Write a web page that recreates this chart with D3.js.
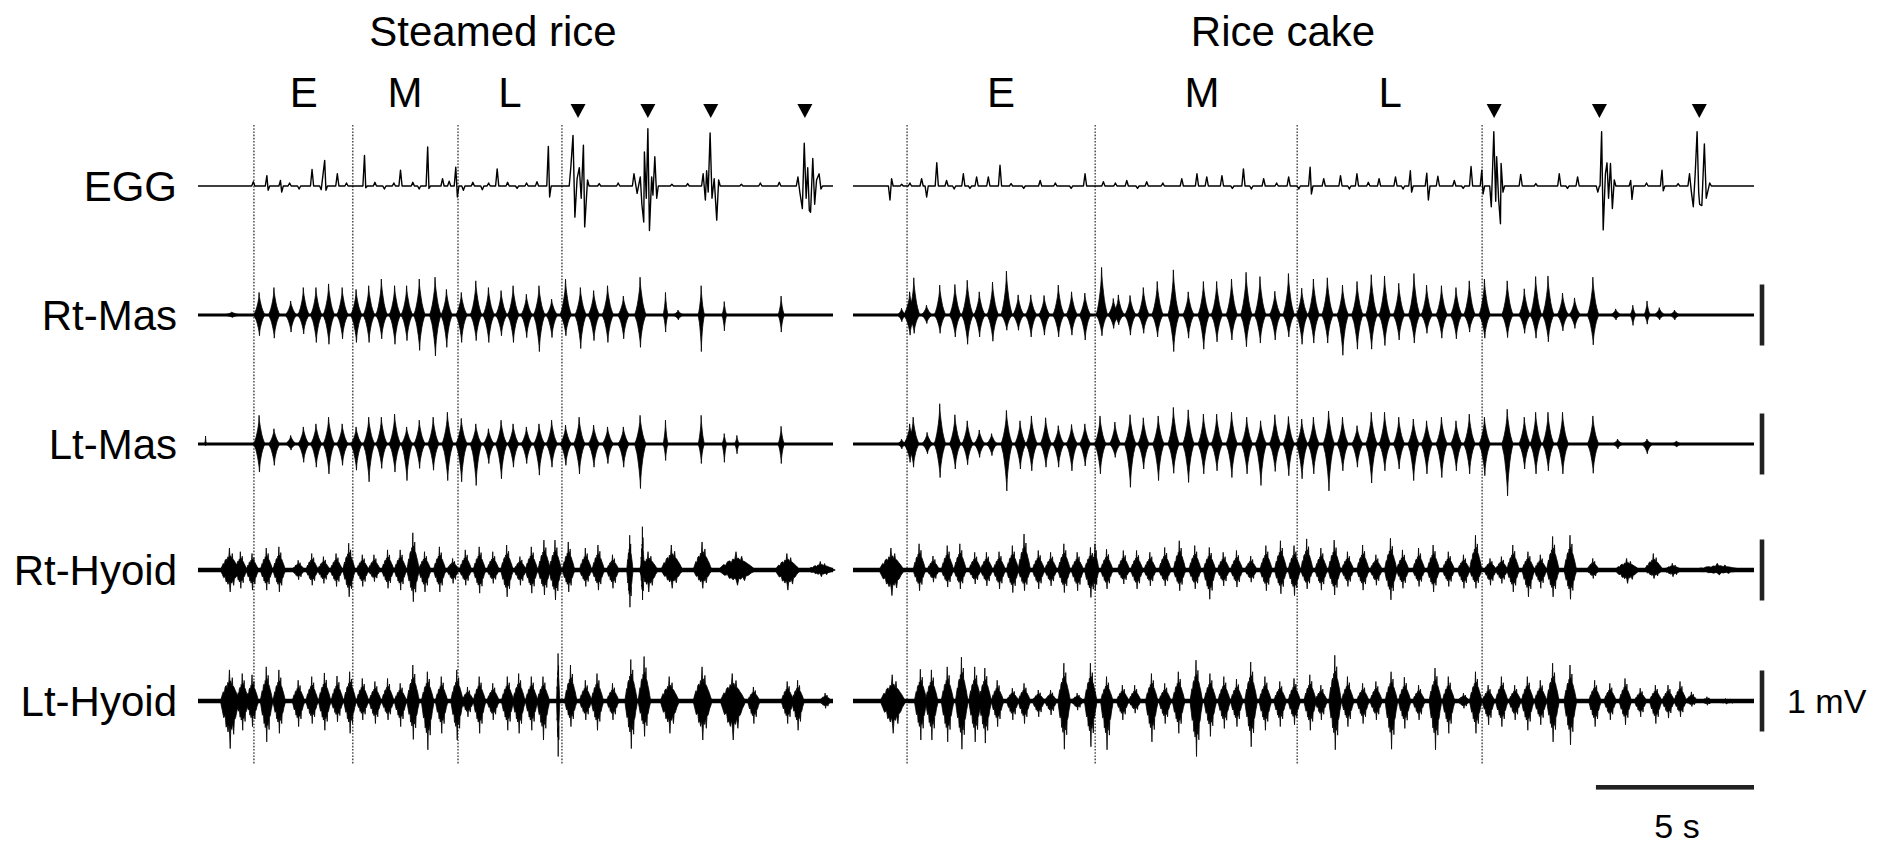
<!DOCTYPE html>
<html>
<head>
<meta charset="utf-8">
<script src="https://cdn.jsdelivr.net/npm/d3@7"></script>
<style>
  body { margin: 0; background: #fff; }
  text { font-family: "Liberation Sans", Arial, sans-serif; fill: #000; }
</style>
</head>
<body>
<svg id="chart" width="1896" height="846"></svg>
<script>
// ---- data (time in s, amplitude in mV) ----
var panelTitles = ["Steamed rice", "Rice cake"];
var panelDuration = [20.1, 28.5];
var rowLabels = ["EGG", "Rt-Mas", "Lt-Mas", "Rt-Hyoid", "Lt-Hyoid"];
var phaseLabels = ["E", "M", "L"];
var phaseLabelTimes = [[3.35, 6.55, 9.87], [4.68, 11.04, 16.99]];
var phaseLineTimes = [[1.77, 4.9, 8.23, 11.52], [1.71, 7.66, 14.05, 19.9]];
var swallowTimes = [[12.03, 14.24, 16.23, 19.21], [20.28, 23.61, 26.77]];
var scaleBarMv = 1;
var scaleBarSec = 5;

// EGG peaks [t, value]
var eggLeft = [[1.75,0.07],[2.18,0.17],[2.22,-0.07],[2.61,0.09],[2.65,-0.10],[2.9,0.05],[3.2,-0.05],[3.61,0.27],[3.9,-0.06],[4.01,0.42],[4.05,-0.07],
  [4.41,0.20],[4.7,0.05],[5.27,0.50],[5.31,-0.03],[5.6,0.06],[5.9,-0.05],[6.2,0.05],[6.41,0.26],[6.8,0.06],[7.0,-0.05],[7.27,0.64],[7.31,-0.04],
  [7.74,0.12],[7.95,0.08],[8.16,0.31],[8.21,-0.18],[8.4,-0.07],[8.7,0.06],[9.0,-0.06],[9.2,0.05],[9.47,0.28],[9.8,0.06],[10.1,-0.04],[10.4,0.05],
  [10.73,0.07],[11.09,0.65],[11.13,-0.18],
  [11.80,0.30],[11.87,0.83],[11.93,-0.51],[12.00,0.12],[12.07,0.30],[12.13,-0.2],[12.20,0.67],[12.24,-0.67],[12.33,0.10],
  [12.7,0.04],[13.3,0.05],
  [13.80,0.20],[13.90,-0.12],[14.00,0.15],[14.05,-0.30],[14.11,-0.59],[14.13,0.56],[14.19,-0.2],[14.24,0.94],[14.29,-0.73],[14.36,0.15],[14.40,-0.15],[14.46,0.48],[14.52,-0.2],
  [15.0,0.03],[15.5,0.04],
  [15.99,0.20],[16.06,-0.23],[16.10,0.25],[16.15,-0.1],[16.21,0.87],[16.27,-0.2],[16.34,0.12],[16.42,-0.56],[16.48,0.10],
  [17.2,0.03],[17.8,0.05],[18.4,0.06],
  [18.99,0.15],[19.05,-0.1],[19.13,-0.37],[19.19,0.70],[19.25,-0.2],[19.30,0.3],[19.35,-0.4],[19.39,-0.43],[19.46,0.45],[19.52,-0.3],[19.58,0.1],[19.66,0.20],[19.72,-0.05]];

var eggRight = [[1.17,-0.23],[1.22,0.12],[1.54,0.03],[1.8,0.05],[2.17,0.12],[2.33,-0.18],[2.65,0.38],[2.96,0.09],[3.2,-0.05],[3.49,0.20],[3.7,-0.04],
  [3.91,0.15],[4.28,0.15],[4.65,0.34],[5.0,0.04],[5.4,-0.04],[5.92,0.09],[6.4,0.05],[6.9,-0.04],[7.34,0.20],[7.92,0.07],[8.3,0.05],[8.66,0.09],
  [9.0,-0.04],[9.29,0.07],[9.8,0.05],[10.40,0.12],[10.88,0.20],[11.19,0.15],[11.67,0.17],[12.0,-0.04],[12.35,0.28],[12.6,-0.05],[12.99,0.12],
  [13.4,0.05],[13.78,0.15],[14.1,-0.05],[14.46,0.31],[14.50,-0.13],[14.89,0.12],[15.42,0.17],[15.7,-0.05],[15.94,0.20],[16.3,0.06],[16.64,0.12],
  [17.16,0.15],[17.4,-0.05],[17.63,0.25],[17.67,-0.10],[18.15,0.21],[18.20,-0.23],[18.50,0.16],[19.02,0.09],[19.3,-0.04],[19.55,0.32],[19.89,0.26],[19.93,-0.13],
  [20.19,-0.34],[20.27,0.89],[20.33,-0.25],[20.36,0.48],[20.42,-0.2],[20.48,-0.62],[20.50,0.37],[20.56,-0.10],
  [21.12,0.19],[21.6,0.04],[22.34,0.20],[22.6,-0.04],[22.92,0.15],
  [23.56,-0.10],[23.68,0.89],[23.73,-0.72],[23.80,0.2],[23.85,0.38],[23.90,-0.2],[23.96,0.37],[24.02,-0.37],[24.08,0.10],
  [24.60,0.09],[24.64,-0.22],[25.1,0.05],[25.59,0.26],[25.63,-0.08],[26.1,0.04],
  [26.46,0.20],[26.52,-0.1],[26.58,-0.34],[26.64,0.2],[26.70,0.89],[26.75,-0.1],[26.78,-0.30],[26.85,-0.32],[26.93,0.69],[26.99,-0.20],[27.10,0.05]];

// EMG bursts [t, up, down, optional half-width]
var rtMasLeft = [[1.08,0.05,0.04,0.3],[1.94,0.37,0.34],[2.41,0.45,0.38],[2.94,0.23,0.28],[3.34,0.45,0.31],[3.74,0.45,0.45],[4.14,0.51,0.48],
  [4.57,0.45,0.39],[5.01,0.42,0.45],[5.41,0.48,0.45],[5.81,0.59,0.39],[6.23,0.48,0.48],[6.61,0.48,0.42],[7.01,0.59,0.58],[7.51,0.62,0.67],
  [7.87,0.42,0.53],[8.34,0.37,0.45],[8.80,0.56,0.42],[9.20,0.45,0.45],[9.60,0.40,0.34],[9.98,0.48,0.45],[10.40,0.34,0.37],[10.80,0.48,0.60],
  [11.20,0.26,0.37],[11.64,0.59,0.34],[12.11,0.45,0.55],[12.53,0.40,0.42],[12.97,0.48,0.45],[13.47,0.31,0.39],[14.00,0.62,0.53],
  [14.80,0.37,0.28,0.08],[15.20,0.08,0.08],[15.93,0.48,0.60,0.1],[16.66,0.22,0.26,0.08],[18.46,0.31,0.28,0.1]];
var ltMasLeft = [[0.24,0.13,0.03,0.03],[1.94,0.47,0.46],[2.41,0.25,0.35],[2.94,0.14,0.10],[3.34,0.28,0.30],[3.74,0.33,0.38],[4.14,0.44,0.49],
  [4.57,0.33,0.35],[5.01,0.28,0.43],[5.41,0.44,0.62],[5.81,0.44,0.40],[6.23,0.49,0.46],[6.61,0.28,0.60],[7.01,0.39,0.40],[7.45,0.44,0.43],
  [7.90,0.52,0.60],[8.34,0.42,0.62],[8.80,0.33,0.68],[9.20,0.25,0.32],[9.60,0.39,0.57],[9.98,0.33,0.38],[10.40,0.28,0.32],[10.80,0.33,0.51],
  [11.20,0.39,0.38],[11.64,0.31,0.35],[12.07,0.44,0.49],[12.53,0.31,0.38],[12.97,0.28,0.32],[13.47,0.28,0.38],[14.00,0.47,0.73],
  [14.80,0.39,0.27,0.08],[15.93,0.47,0.32,0.1],[16.66,0.17,0.30,0.08],[17.06,0.14,0.16,0.08],[18.46,0.29,0.32,0.1]];
var rtHyoidLeft = [[1.01,0.36,0.36,0.3],[1.35,0.30,0.30],[1.72,0.27,0.33],[2.17,0.36,0.33],[2.57,0.38,0.36],[3.18,0.16,0.16],[3.61,0.27,0.25],
  [3.98,0.22,0.22],[4.38,0.27,0.27],[4.78,0.44,0.44],[5.21,0.25,0.27],[5.58,0.25,0.19],[6.01,0.33,0.30],[6.41,0.33,0.33],[6.81,0.61,0.52],
  [7.18,0.30,0.36],[7.65,0.38,0.36],[8.07,0.19,0.22],[8.47,0.33,0.25],[8.91,0.38,0.38],[9.34,0.30,0.22],[9.78,0.41,0.44],[10.20,0.22,0.25],
  [10.56,0.38,0.38],[10.96,0.49,0.41],[11.31,0.49,0.49],[11.73,0.46,0.36],[12.27,0.36,0.27],[12.67,0.41,0.33],[13.13,0.25,0.30],
  [13.67,0.57,0.61,0.1],[14.07,0.71,0.49,0.06],[14.26,0.30,0.36,0.3],[15.00,0.41,0.30,0.35],[15.97,0.46,0.30,0.3],[17.06,0.30,0.25,0.6],
  [18.66,0.27,0.33,0.4],[19.72,0.14,0.11,0.45]];
var ltHyoidLeft = [[1.01,0.51,0.78,0.3],[1.41,0.45,0.48],[1.72,0.43,0.42],[2.17,0.56,0.67],[2.57,0.51,0.53],[3.18,0.34,0.42],[3.61,0.40,0.37],
  [4.01,0.46,0.48],[4.41,0.41,0.34],[4.81,0.48,0.53],[5.21,0.37,0.31],[5.61,0.32,0.37],[6.01,0.37,0.31],[6.41,0.29,0.42],[6.81,0.59,0.63],
  [7.27,0.48,0.80],[7.71,0.40,0.53],[8.20,0.51,0.64],[8.54,0.23,0.26],[8.91,0.40,0.53],[9.34,0.29,0.31],[9.80,0.40,0.48],[10.16,0.45,0.53],
  [10.56,0.40,0.48],[10.93,0.40,0.64],[11.40,0.78,0.91,0.05],[11.80,0.59,0.42],[12.27,0.34,0.31],[12.64,0.45,0.48],[13.13,0.29,0.31],
  [13.71,0.68,0.78],[14.13,0.73,0.58],[14.93,0.40,0.53,0.3],[15.97,0.56,0.64,0.3],[16.93,0.45,0.64,0.4],[17.59,0.23,0.37],[18.66,0.32,0.37],
  [18.99,0.34,0.48],[19.86,0.13,0.12,0.2]];

var rtMasRight = [[1.54,0.11,0.11,0.15],[1.80,0.38,0.33,0.2],[1.93,0.61,0.30],[2.33,0.16,0.14],[2.75,0.49,0.30],[3.23,0.50,0.36],[3.62,0.57,0.48],
  [4.00,0.38,0.36],[4.42,0.54,0.43],[4.86,0.72,0.25],[5.23,0.33,0.25],[5.63,0.33,0.36],[6.05,0.32,0.33],[6.50,0.49,0.36],[6.92,0.38,0.33],
  [7.34,0.36,0.41],[7.87,0.78,0.34],[8.24,0.27,0.22],[8.40,0.33,0.16],[8.77,0.32,0.33],[9.19,0.45,0.30],[9.63,0.55,0.36],[10.14,0.74,0.60],
  [10.61,0.38,0.38],[11.09,0.55,0.56],[11.51,0.55,0.44],[11.98,0.59,0.41],[12.44,0.70,0.52],[12.88,0.63,0.46],[13.35,0.39,0.41],[13.78,0.68,0.36],
  [14.20,0.44,0.48],[14.57,0.59,0.46],[15.01,0.61,0.46],[15.49,0.49,0.66],[15.95,0.55,0.56],[16.40,0.66,0.56],[16.82,0.64,0.50],[17.27,0.52,0.41],
  [17.75,0.68,0.46],[18.15,0.49,0.30],[18.62,0.48,0.38],[19.08,0.45,0.39],[19.50,0.56,0.28],[19.98,0.59,0.38],[20.70,0.56,0.37],[21.24,0.43,0.30],
  [21.60,0.63,0.38],[21.99,0.64,0.44],[22.45,0.36,0.26],[22.83,0.28,0.22],[23.41,0.62,0.49],[24.13,0.10,0.08],[24.67,0.16,0.17,0.1],
  [25.12,0.23,0.15,0.1],[25.51,0.12,0.08],[25.99,0.08,0.08]];
var ltMasRight = [[1.54,0.08,0.08,0.15],[1.80,0.33,0.30,0.2],[1.91,0.44,0.38],[2.35,0.19,0.16],[2.75,0.66,0.55],[3.23,0.48,0.41],[3.62,0.38,0.34],
  [4.00,0.23,0.22],[4.39,0.17,0.19],[4.86,0.55,0.77],[5.29,0.38,0.41],[5.65,0.46,0.44],[6.10,0.43,0.38],[6.50,0.30,0.38],[6.92,0.32,0.44],
  [7.34,0.33,0.36],[7.82,0.46,0.49],[8.29,0.36,0.22],[8.77,0.48,0.71],[9.19,0.43,0.41],[9.66,0.46,0.60],[10.14,0.60,0.48],[10.61,0.56,0.63],
  [11.09,0.49,0.49],[11.51,0.49,0.44],[11.98,0.52,0.55],[12.46,0.44,0.49],[12.90,0.38,0.68],[13.35,0.48,0.45],[13.78,0.45,0.52],[14.20,0.41,0.57],
  [14.57,0.44,0.49],[15.05,0.54,0.77],[15.49,0.44,0.44],[15.95,0.30,0.38],[16.40,0.52,0.64],[16.82,0.52,0.44],[17.27,0.44,0.41],[17.73,0.41,0.60],
  [18.15,0.38,0.49],[18.62,0.44,0.55],[19.08,0.38,0.44],[19.50,0.49,0.49],[19.98,0.44,0.52],[20.70,0.57,0.85],[21.24,0.44,0.41],[21.60,0.52,0.49],
  [21.99,0.52,0.44],[22.45,0.52,0.49],[23.41,0.46,0.48],[24.19,0.08,0.08],[25.12,0.08,0.16],[26.05,0.05,0.05]];
var rtHyoidRight = [[1.22,0.36,0.42,0.4],[2.10,0.43,0.34],[2.54,0.23,0.20],[2.99,0.40,0.28],[3.39,0.43,0.31],[3.86,0.29,0.23],[4.23,0.29,0.26],
  [4.63,0.30,0.31],[5.05,0.40,0.37],[5.42,0.59,0.34],[5.87,0.32,0.31],[6.26,0.29,0.26],[6.68,0.43,0.37],[7.10,0.29,0.34],[7.52,0.37,0.45],
  [7.66,0.43,0.34,0.12],[8.03,0.34,0.31],[8.56,0.32,0.23],[8.98,0.32,0.31],[9.40,0.29,0.26],[9.87,0.37,0.26],[10.33,0.48,0.34],[10.82,0.40,0.31],
  [11.28,0.37,0.48],[11.72,0.29,0.26],[12.14,0.32,0.28],[12.59,0.23,0.20],[13.07,0.40,0.34],[13.53,0.48,0.39],[13.96,0.40,0.42],[14.36,0.51,0.31],
  [14.81,0.36,0.33],[15.23,0.49,0.41],[15.65,0.30,0.27],[16.13,0.41,0.33],[16.55,0.25,0.25],[17.01,0.52,0.49],[17.39,0.33,0.30],[17.90,0.36,0.27],
  [18.36,0.41,0.36],[18.84,0.30,0.27],[19.32,0.25,0.30],[19.70,0.57,0.30],[20.16,0.19,0.25],[20.52,0.22,0.22],[20.88,0.41,0.36],[21.36,0.30,0.44],
  [21.75,0.25,0.30],[22.14,0.55,0.44],[22.69,0.57,0.48],[23.41,0.19,0.14],[24.49,0.19,0.22,0.4],[25.33,0.27,0.14,0.3],[25.93,0.11,0.11,0.3],
  [27.38,0.11,0.08,0.8]];
var ltHyoidRight = [[1.26,0.43,0.53,0.4],[2.14,0.52,0.64],[2.49,0.51,0.64],[2.99,0.56,0.67],[3.44,0.72,0.79],[3.86,0.56,0.67],[4.18,0.54,0.69],
  [4.57,0.34,0.42],[5.05,0.21,0.31],[5.42,0.29,0.37],[5.87,0.18,0.26],[6.26,0.18,0.23],[6.68,0.62,0.79],[7.10,0.13,0.15],[7.52,0.62,0.75],
  [8.03,0.40,0.80],[8.53,0.26,0.31],[8.92,0.26,0.20],[9.45,0.45,0.67],[9.87,0.29,0.37],[10.30,0.48,0.53],[10.86,0.67,0.91],[11.30,0.45,0.58],
  [11.74,0.40,0.45],[12.14,0.36,0.42],[12.59,0.64,0.75],[13.04,0.40,0.48],[13.51,0.32,0.42],[13.96,0.37,0.39],[14.46,0.43,0.48],[14.81,0.26,0.31],
  [15.25,0.75,0.80],[15.65,0.40,0.42],[16.13,0.29,0.37],[16.55,0.32,0.31],[17.03,0.48,0.79],[17.45,0.39,0.45],[17.90,0.26,0.31],[18.42,0.54,0.80],
  [18.84,0.40,0.53],[19.32,0.13,0.12],[19.70,0.48,0.53],[20.10,0.26,0.39],[20.52,0.40,0.42],[20.94,0.26,0.31],[21.34,0.40,0.48],[21.75,0.34,0.39],
  [22.14,0.62,0.67],[22.69,0.59,0.72],[23.47,0.34,0.42],[23.95,0.29,0.31],[24.43,0.37,0.39],[24.91,0.21,0.26],[25.39,0.26,0.37],[25.79,0.26,0.28],
  [26.17,0.32,0.26],[26.53,0.15,0.09],[27.02,0.07,0.07],[27.62,0.04,0.05,0.5]];

var eggData = [eggLeft, eggRight];
var emgData = [[rtMasLeft, ltMasLeft, rtHyoidLeft, ltHyoidLeft],
               [rtMasRight, ltMasRight, rtHyoidRight, ltHyoidRight]];

// ---- layout ----
var svg = d3.select("#chart");
var panelRange = [[198, 833], [853, 1754]];
var rowY = [186, 315, 444, 570, 701];
var mvPx = 61;
var titleX = [493, 1283];

var xScales = panelDuration.map(function (d, i) {
  return d3.scaleLinear().domain([0, d]).range(panelRange[i]);
});
var yScales = rowY.map(function (y) {
  return d3.scaleLinear().domain([-1, 1]).range([y + mvPx, y - mvPx]);
});

// burst outline templates: [u across burst (-1..1), relative height]
var masTop = [[-1,0],[-0.75,0.12],[-0.55,0.25],[-0.4,0.38],[-0.28,0.5],[-0.18,0.62],[-0.1,0.75],[-0.04,1],[0.02,0.82],[0.1,0.7],
  [0.2,0.58],[0.32,0.45],[0.45,0.32],[0.62,0.2],[0.8,0.1],[1,0]];
var masBottom = [[-1,0],[-0.8,0.1],[-0.6,0.2],[-0.45,0.32],[-0.32,0.45],[-0.2,0.58],[-0.1,0.72],[-0.02,0.84],[0.03,1],[0.1,0.76],
  [0.18,0.62],[0.3,0.48],[0.42,0.35],[0.58,0.22],[0.78,0.1],[1,0]];
var hyoTop = [[-1,0],[-0.85,0.15],[-0.7,0.3],[-0.6,0.25],[-0.5,0.45],[-0.38,0.5],[-0.3,0.4],[-0.22,0.6],[-0.12,0.55],[-0.05,1],
  [0,0.6],[0.08,0.65],[0.18,0.5],[0.25,0.75],[0.3,0.5],[0.42,0.45],[0.55,0.35],[0.7,0.25],[0.85,0.12],[1,0]];
var hyoBottom = [[-1,0],[-0.8,0.2],[-0.65,0.35],[-0.5,0.3],[-0.4,0.55],[-0.3,0.5],[-0.2,0.65],[-0.1,0.5],[-0.03,0.7],[0.03,1],
  [0.1,0.55],[0.2,0.6],[0.3,0.45],[0.4,0.7],[0.47,0.4],[0.6,0.35],[0.75,0.2],[0.9,0.1],[1,0]];
var rowStyle = [null,
  { top: masTop, bottom: masBottom, halfWidth: 0.18, base: 3 },
  { top: masTop, bottom: masBottom, halfWidth: 0.18, base: 3 },
  { top: hyoTop, bottom: hyoBottom, halfWidth: 0.2, base: 4.5 },
  { top: hyoTop, bottom: hyoBottom, halfWidth: 0.2, base: 4.5 }];

// dotted phase lines
phaseLineTimes.forEach(function (times, p) {
  svg.append("g").selectAll("line").data(times).enter().append("line")
    .attr("x1", function (d) { return xScales[p](d); })
    .attr("x2", function (d) { return xScales[p](d); })
    .attr("y1", 125).attr("y2", 765)
    .attr("stroke", "#333").attr("stroke-width", 1.3)
    .attr("stroke-dasharray", "1.6,1.6");
});

// titles, phase labels, swallow markers
panelTitles.forEach(function (t, p) {
  svg.append("text").attr("x", titleX[p]).attr("y", 46)
    .attr("text-anchor", "middle").style("font-size", "42px").text(t);

  svg.append("g").selectAll("text").data(phaseLabelTimes[p]).enter().append("text")
    .attr("x", function (d) { return xScales[p](d); })
    .attr("y", 107)
    .attr("text-anchor", "middle").style("font-size", "42px")
    .text(function (d, i) { return phaseLabels[i]; });

  svg.append("g").selectAll("path").data(swallowTimes[p]).enter().append("path")
    .attr("d", function (d) {
      var x = xScales[p](d);
      return "M" + (x - 7.5) + ",104L" + (x + 7.5) + ",104L" + x + ",118Z";
    })
    .attr("fill", "#000");
});

// row labels
svg.append("g").selectAll("text").data(rowLabels).enter().append("text")
  .attr("x", 177)
  .attr("y", function (d, i) { return rowY[i]; })
  .attr("dy", "0.36em")
  .attr("text-anchor", "end")
  .style("font-size", "42px")
  .text(function (d) { return d; });

// EGG traces
var eggLine = d3.line();
eggData.forEach(function (spikes, p) {
  var x = xScales[p], y = yScales[0];
  var pts = [[0, 0]];
  var prev = -1;
  spikes.forEach(function (s) {
    if (s[0] - prev > 0.12) {
      if (prev >= 0) pts.push([prev + 0.05, 0]);
      pts.push([s[0] - 0.05, 0]);
    }
    pts.push(s);
    prev = s[0];
  });
  pts.push([prev + 0.05, 0], [panelDuration[p], 0]);
  svg.append("path")
    .attr("d", eggLine(pts.map(function (d) { return [x(d[0]), y(d[1])]; })))
    .attr("fill", "none").attr("stroke", "#000")
    .attr("stroke-width", 1.4).attr("stroke-linejoin", "round");
});

// EMG traces
var outline = d3.line();
emgData.forEach(function (rows, p) {
  var x = xScales[p];
  rows.forEach(function (bursts, r) {
    var row = r + 1, y = yScales[row], st = rowStyle[row];
    var g = svg.append("g");
    g.append("line")
      .attr("x1", x(0)).attr("x2", x(panelDuration[p]))
      .attr("y1", y(0)).attr("y2", y(0))
      .attr("stroke", "#000").attr("stroke-width", st.base);
    g.selectAll("path").data(bursts).enter().append("path")
      .attr("d", function (b) {
        var hw = b[3] || st.halfWidth;
        var top = st.top.map(function (q) { return [x(b[0] + q[0] * hw), y(b[1] * q[1])]; });
        var bottom = st.bottom.slice().reverse().map(function (q) { return [x(b[0] + q[0] * hw), y(-b[2] * q[1])]; });
        return outline(top.concat(bottom)) + "Z";
      })
      .attr("fill", "#000").attr("stroke", "#000").attr("stroke-width", 0.8)
      .attr("stroke-linejoin", "round");
  });
});

// amplitude scale bars (1 mV) on EMG rows
var barX = 1762;
svg.append("g").selectAll("rect").data(rowY.slice(1)).enter().append("rect")
  .attr("x", barX - 2.3).attr("width", 4.6)
  .attr("y", function (d, i) { return yScales[i + 1](scaleBarMv / 2); })
  .attr("height", function (d, i) { return yScales[i + 1](-scaleBarMv / 2) - yScales[i + 1](scaleBarMv / 2); })
  .attr("fill", "#222");
svg.append("text").attr("x", 1787).attr("y", rowY[4]).attr("dy", "0.36em")
  .style("font-size", "34px").text(scaleBarMv + " mV");

// time scale bar (5 s)
var xr = xScales[1];
svg.append("rect")
  .attr("x", xr(panelDuration[1] - scaleBarSec)).attr("width", xr(panelDuration[1]) - xr(panelDuration[1] - scaleBarSec))
  .attr("y", 785).attr("height", 4.6).attr("fill", "#222");
svg.append("text")
  .attr("x", (xr(panelDuration[1] - scaleBarSec) + xr(panelDuration[1])) / 2 + 2).attr("y", 838)
  .attr("text-anchor", "middle").style("font-size", "34px").text(scaleBarSec + " s");
</script>
</body>
</html>
